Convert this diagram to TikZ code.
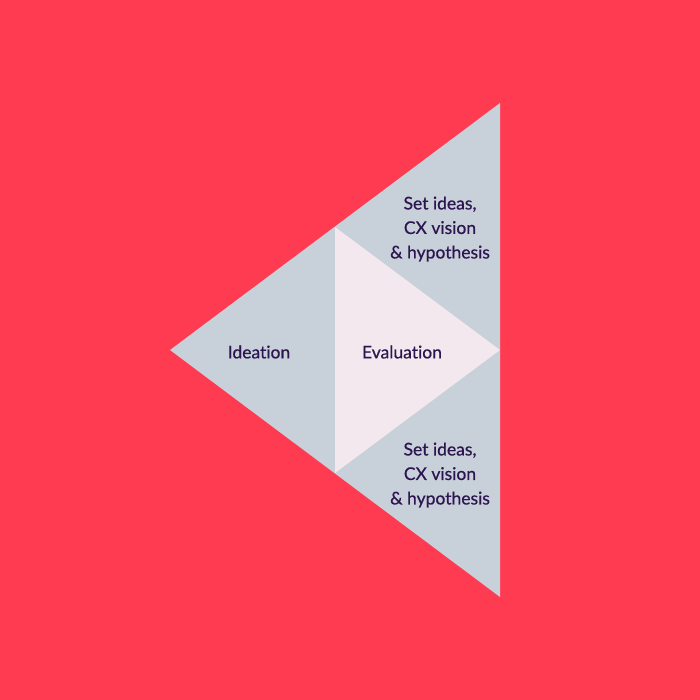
\documentclass[tikz,border=0pt]{standalone}
\usepackage{fontspec}
\setmainfont{Lato}[AutoFakeBold=0.6,Ligatures={NoCommon,NoRare}]
\definecolor{bgred}{HTML}{FF3B52}
\definecolor{tgray}{HTML}{C8D0DA}
\definecolor{tpink}{HTML}{F3E8EE}
\definecolor{tpurple}{HTML}{2D1650}
\begin{document}
\begin{tikzpicture}[x=1pt,y=-1pt,
  lbl/.style={text=tpurple,font=\fontsize{17.5}{24.5}\selectfont\bfseries,align=center,inner sep=0pt}]
\fill[bgred] (0,0) rectangle (700,700);
\useasboundingbox (0,0) rectangle (700,700);
\coordinate (L) at (170,350);
\coordinate (T) at (500,103);
\coordinate (B) at (500,597);
\coordinate (MT) at (335,227);
\coordinate (MB) at (335,473);
\coordinate (MR) at (500,350);
\fill[tgray] (L) -- (T) -- (B) -- cycle;
\fill[tpink] (MT) -- (MR) -- (MB) -- cycle;
\node[lbl] (ideation) at (259,352) {Ideation};
\node[lbl] (evaluation) at (402,352) {Evaluation};
\node[lbl] (top) at (440,229) {Set ideas,\\CX vision\\\& hypothesis};
\node[lbl] (bottom) at (440,475) {Set ideas,\\CX vision\\\& hypothesis};
\end{tikzpicture}
\end{document}
